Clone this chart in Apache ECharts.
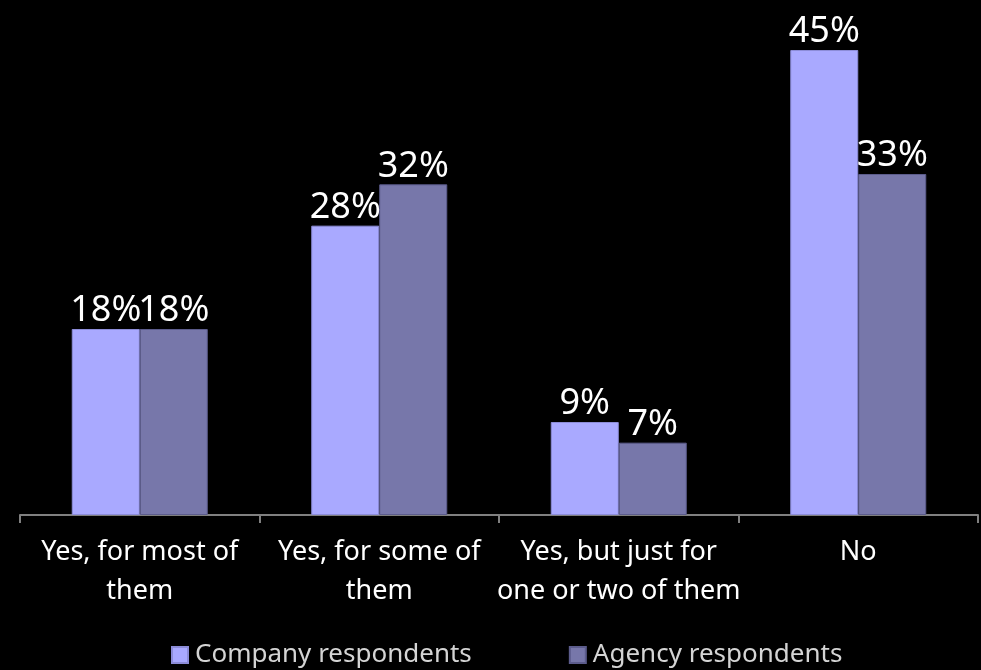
<!DOCTYPE html>
<html>
<head>
<meta charset="utf-8">
<script src="https://cdn.jsdelivr.net/npm/echarts@6/dist/echarts.min.js"></script>
<style>
html,body{margin:0;padding:0;background:#000;}
#chart{width:981px;height:670px;}
</style>
</head>
<body>
<div id="chart"></div>
<script>
var categories = ['Yes, for most of\nthem', 'Yes, for some of\nthem', 'Yes, but just for\none or two of them', 'No'];
var companyValues = [18, 28, 9, 45];
var agencyValues = [18, 32, 7, 33];
var seriesNames = ['Company respondents', 'Agency respondents'];

var labelStyle = {
    show: true,
    position: 'top',
    distance: 0,
    color: '#fff',
    fontSize: 36,
    fontFamily: 'Noto Sans',
    formatter: '{c}%'
};

var option = {
    backgroundColor: '#000',
    animation: false,
    grid: { left: 20, right: 3, top: 50, bottom: 155 },
    legend: {
        data: seriesNames,
        top: 635,
        left: 166,
        itemWidth: 16,
        itemHeight: 16,
        itemGap: 97,
        icon: 'rect',
        textStyle: { color: '#d4d4d4', fontSize: 26, fontFamily: 'Noto Sans', lineHeight: 30, padding: [0, 0, 0, 2] }
    },
    xAxis: {
        type: 'category',
        data: categories,
        axisLine: { lineStyle: { color: '#808080', width: 2 } },
        axisTick: { show: true, length: 8, lineStyle: { color: '#808080', width: 2 } },
        axisLabel: {
            color: '#fff',
            fontSize: 27,
            fontFamily: 'Noto Sans',
            lineHeight: 39,
            margin: 18,
            interval: 0
        }
    },
    yAxis: {
        type: 'value',
        min: 0,
        max: 45,
        show: false,
        splitLine: { show: false }
    },
    series: [
        {
            name: seriesNames[0],
            type: 'bar',
            data: companyValues,
            barWidth: 68,
            barGap: '0%',
            itemStyle: { color: '#a9a9ff', borderColor: '#8c8cd8', borderWidth: 1 },
            label: labelStyle
        },
        {
            name: seriesNames[1],
            type: 'bar',
            data: agencyValues,
            barWidth: 68,
            itemStyle: { color: '#7777aa', borderColor: '#5c5c8c', borderWidth: 1 },
            label: labelStyle
        }
    ]
};

var mychart = echarts.init(document.getElementById('chart'));
mychart.setOption(option);
</script>
</body>
</html>
